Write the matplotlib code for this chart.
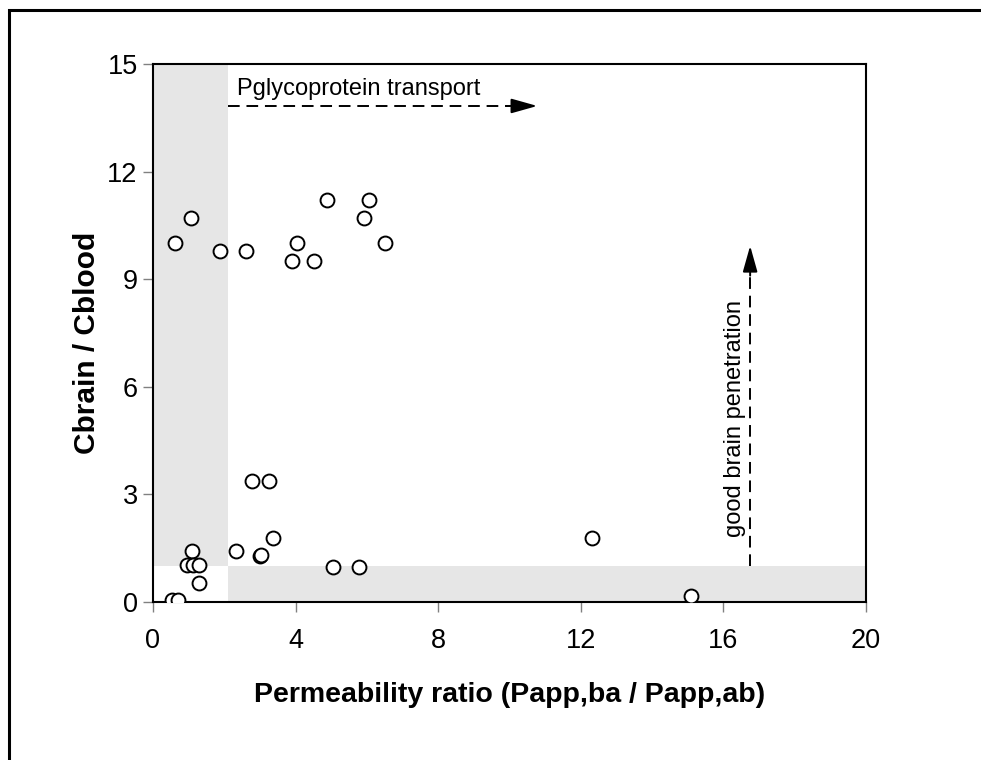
import matplotlib
matplotlib.use("Agg")
import matplotlib.pyplot as plt
from matplotlib.patches import Rectangle

plt.rcParams['font.family'] = ['Liberation Sans', 'DejaVu Sans']

# Data (permeability ratio, Cbrain/Cblood)
ratio = [0.62, 1.07, 1.88, 2.60, 4.03, 3.91, 4.51, 4.88, 5.91, 6.05, 6.50,
         0.53, 0.70, 1.10, 0.94, 1.11, 1.29, 1.28, 2.33, 3.00, 3.03, 3.37,
         5.06, 5.77, 2.79, 3.26, 12.31, 15.10]
cbrain = [10.0, 10.7, 9.8, 9.8, 10.0, 9.5, 9.5, 11.2, 10.7, 11.2, 10.0,
          0.06, 0.06, 1.42, 1.02, 1.02, 1.02, 0.53, 1.42, 1.28, 1.30, 1.78,
          0.98, 0.98, 3.37, 3.37, 1.78, 0.17]

x_ticks = [0, 4, 8, 12, 16, 20]
y_ticks = [0, 3, 6, 9, 12, 15]
ratio_cut = 2.1
brain_cut = 1.0

fig = plt.figure(figsize=(9.81, 7.6), dpi=100)
ax = fig.add_axes([153/981, 1-602/760, (866-153)/981, (602-64)/760])

grey = '#e6e6e6'
ax.add_patch(Rectangle((0, brain_cut), ratio_cut, 15 - brain_cut, facecolor=grey, edgecolor='none', zorder=0))
ax.add_patch(Rectangle((ratio_cut, 0), 20 - ratio_cut, brain_cut, facecolor=grey, edgecolor='none', zorder=0))

ax.plot(ratio, cbrain, linestyle='none', marker='o', markersize=10,
        markerfacecolor='white', markeredgecolor='black', markeredgewidth=1.4, zorder=3)

ax.set_xlim(0, 20)
ax.set_ylim(0, 15)
ax.set_xticks(x_ticks)
ax.set_yticks(y_ticks)
ax.tick_params(direction='out', length=7, width=1, color='#808080',
               labelsize=19.5, pad=12)
ax.tick_params(axis='y', pad=4)
for s in ax.spines.values():
    s.set_linewidth(1.5)
    s.set_color('black')

ax.set_xlabel('Permeability ratio (Papp,ba / Papp,ab)', fontsize=20.5, fontweight='bold', labelpad=20)
ax.set_ylabel('Cbrain / Cblood', fontsize=21.5, fontweight='bold')
ax.yaxis.set_label_coords(-0.073, 0.481)

# Horizontal dashed arrow
dash = (0, (6, 3.5))
ax.plot([ratio_cut, 10.0], [13.83, 13.83], color='black', lw=1.4, linestyle=dash, zorder=2)
ax.annotate('', xy=(10.78, 13.83), xytext=(9.9, 13.83),
            arrowprops=dict(arrowstyle='-|>,head_length=1.6,head_width=0.45', color='black', lw=1.4,
                            shrinkA=0, shrinkB=0), zorder=2)
ax.text(2.35, 14.0, 'Pglycoprotein transport', fontsize=17, ha='left', va='bottom')

# Vertical dashed arrow
ax.plot([16.75, 16.75], [brain_cut, 9.2], color='black', lw=1.4, linestyle=dash, zorder=2)
ax.annotate('', xy=(16.75, 9.93), xytext=(16.75, 9.1),
            arrowprops=dict(arrowstyle='-|>,head_length=1.6,head_width=0.45', color='black', lw=1.4,
                            shrinkA=0, shrinkB=0), zorder=2)
ax.text(16.33, 5.13, 'good brain penetration', fontsize=17, rotation=90, ha='center', va='center')

# Outer frame
fig.patches.append(Rectangle((9/981, -0.1), 1.1, 1 - 10/760 + 0.1, transform=fig.transFigure,
                             fill=False, edgecolor='black', linewidth=2.2))

fig.savefig('out.png', dpi=100)
